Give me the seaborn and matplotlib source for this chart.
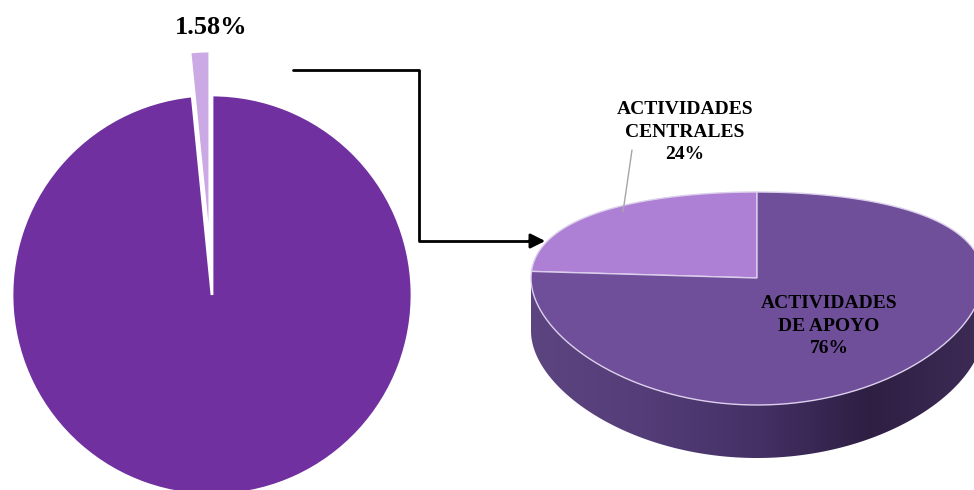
import numpy as np
import matplotlib.pyplot as plt
import seaborn as sns
from matplotlib.patches import Polygon

# datos
total_vals = [1.58, 98.42]          # porcion destacada / resto
act_labels = ['ACTIVIDADES\nCENTRALES', 'ACTIVIDADES\nDE APOYO']
act_vals = [24, 76]

total_colors = ['#caa9e4', '#7030a0']
act_colors = ['#ad80d6', '#6f4e9a']

sns.set_theme(style='white')
plt.rcParams['font.family'] = ['Liberation Serif', 'DejaVu Serif']

W, H = 974, 490
fig = plt.figure(figsize=(9.74, 4.9), dpi=100)

# --- pie izquierdo ---
cx, cy, r = 212, 295, 200
half = 1.25 * r
axl = fig.add_axes([(cx - half) / W, (H - cy - half) / H, 2 * half / W, 2 * half / H])
axl.pie(total_vals, colors=total_colors, startangle=90, explode=[0.22, 0],
        wedgeprops=dict(edgecolor='white', linewidth=2))
axl.set_xlim(-1.25, 1.25)
axl.set_ylim(-1.25, 1.25)
axl.axis('off')

# --- capa en coordenadas de pixel ---
axr = fig.add_axes([0, 0, 1, 1])
axr.patch.set_visible(False)

# pie derecho (3D simulado)
pcx, pcy, rx = 757, 278, 226
depth = 53


def proj(x, y):
    X = pcx + rx * x
    Y = pcy - 106.5 * y + 20.5 * y ** 2
    return X, Y


wr, _ = axr.pie(act_vals, colors=act_colors, startangle=90)
axr.set_aspect('auto')
axr.set_xlim(0, W)
axr.set_ylim(H, 0)
axr.axis('off')

# pared lateral con degradado
t = np.radians(np.linspace(180, 360, 200))
xt, yt = proj(np.cos(t), np.sin(t))
side = np.r_[np.c_[xt, yt], np.c_[xt[::-1], yt[::-1] + depth]]
side_poly = Polygon(side, closed=True, fc='none', ec='none')
axr.add_patch(side_poly)
stops = np.array([[0.36, 0.27, 0.50], [0.33, 0.24, 0.47], [0.27, 0.19, 0.40],
                  [0.18, 0.12, 0.26], [0.24, 0.17, 0.34]])
xs = np.linspace(0, 1, 300)
sp = np.linspace(0, 1, len(stops))
grad = np.stack([np.interp(xs, sp, stops[:, k]) for k in range(3)], axis=-1)[None, :, :]
im = axr.imshow(grad, extent=[pcx - rx, pcx + rx, 480, 260], aspect='auto', zorder=2)
im.set_clip_path(side_poly)

for w in wr:
    th = np.radians(np.linspace(w.theta1, w.theta2, 120))
    X, Y = proj(np.r_[0, np.cos(th), 0], np.r_[0, np.sin(th), 0])
    axr.add_patch(Polygon(np.c_[X, Y], closed=True, fc=w.get_facecolor(),
                          ec='#ddd0ec', lw=1, zorder=3))
    w.remove()
axr.set_xlim(0, W)
axr.set_ylim(H, 0)

# etiquetas
axr.text(211, 27, f'{total_vals[0]:.2f}%', ha='center', va='center',
         fontsize=19, fontweight='bold', color='black')
axr.text(685, 132, f'{act_labels[0]}\n{act_vals[0]}%', ha='center', va='center',
         fontsize=14, fontweight='bold', linespacing=1.45, color='black', zorder=5)
axr.text(829, 326, f'{act_labels[1]}\n{act_vals[1]}%', ha='center', va='center',
         fontsize=14, fontweight='bold', linespacing=1.45, color='black', zorder=5)
axr.plot([632, 623], [150, 212], color='#a6a6a6', lw=1, zorder=4)

# conector
axr.plot([293, 419, 419, 532], [70, 70, 241, 241], color='black', lw=2, zorder=4)
axr.annotate('', xy=(548, 241), xytext=(526, 241),
             arrowprops=dict(arrowstyle='-|>', color='black', lw=2, mutation_scale=22),
             zorder=4)

fig.savefig('out.png', dpi=100)
